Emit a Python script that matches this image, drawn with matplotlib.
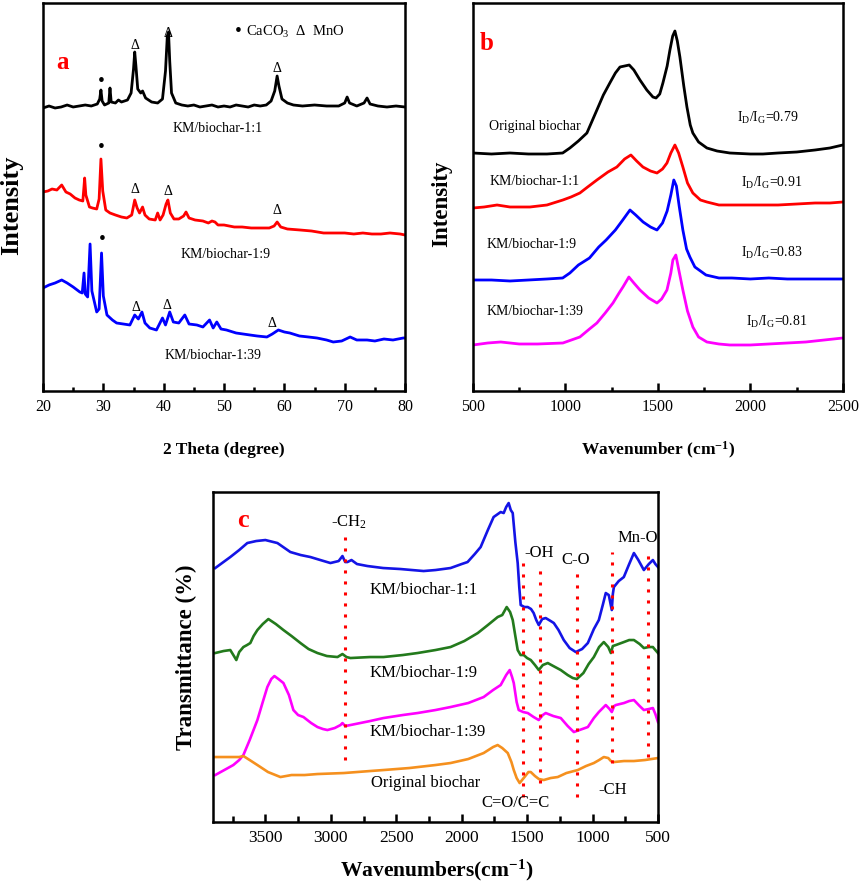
import numpy as np
import matplotlib
matplotlib.use("Agg")
import matplotlib.pyplot as plt
from matplotlib.ticker import MultipleLocator, FixedLocator

plt.rcParams['font.family'] = ['Liberation Serif', 'DejaVu Serif']
plt.rcParams['mathtext.fontset'] = 'custom'
plt.rcParams['mathtext.rm'] = 'Liberation Serif'
plt.rcParams['mathtext.it'] = 'Liberation Serif:italic'
plt.rcParams['mathtext.bf'] = 'Liberation Serif:bold'

# ---------------- data: (a) XRD, 2 theta vs intensity (arb.) ----------------
xrd_11 = [(20.0, 283), (21.0, 285), (22.0, 283), (23.0, 284), (24.0, 286), (25.0, 284), (26.0, 285),
          (27.0, 286), (28.0, 285), (29.0, 287), (29.4, 292), (29.6, 301), (29.8, 290), (30.2, 286),
          (30.9, 288), (31.1, 303), (31.3, 289), (32.0, 288), (32.5, 291), (33.0, 289), (34.0, 291),
          (34.6, 298), (35.0, 322), (35.2, 339), (35.4, 325), (35.7, 302), (36.2, 298), (36.5, 300),
          (37.0, 293), (38.0, 289), (39.0, 288), (39.8, 292), (40.3, 320), (40.6, 355), (40.8, 359),
          (41.0, 330), (41.3, 298), (42.0, 288), (43.0, 286), (44.0, 285), (45.0, 286), (46.0, 284),
          (47.0, 285), (48.0, 286), (49.0, 284), (50.0, 285), (51.0, 284), (52.0, 286), (53.0, 285),
          (54.0, 284), (55.0, 286), (56.0, 285), (57.0, 286), (57.8, 290), (58.4, 300), (58.8, 315),
          (59.1, 305), (59.6, 292), (60.5, 288), (61.5, 286), (63.0, 285), (65.0, 286), (67.0, 285),
          (69.0, 285), (70.0, 288), (70.4, 294), (70.8, 288), (72.0, 285), (73.2, 288), (73.7, 293),
          (74.2, 287), (75.5, 285), (77.0, 284), (78.5, 285), (80.0, 284)]
xrd_19 = [(20.0, 199), (20.8, 200), (21.5, 202), (22.3, 201), (23.1, 206), (23.8, 199), (24.5, 197),
          (25.3, 193), (26.0, 191), (26.6, 190), (26.8, 205), (26.9, 213), (27.1, 196), (27.7, 184),
          (28.2, 183), (28.9, 182), (29.3, 192), (29.6, 232), (29.9, 200), (30.4, 181), (31.1, 178),
          (32.0, 176), (33.0, 174), (33.9, 173), (34.7, 176), (35.2, 191), (35.6, 183), (36.0, 178),
          (36.5, 184), (36.9, 176), (37.6, 172), (38.6, 171), (39.0, 178), (39.4, 171), (39.9, 176),
          (40.4, 187), (40.7, 191), (41.1, 178), (41.7, 172), (42.5, 172), (43.3, 175), (43.7, 179),
          (44.2, 173), (45.2, 171), (46.5, 170), (47.4, 168), (48.0, 170), (48.5, 169), (49.0, 166),
          (50.0, 166), (51.7, 164), (53.0, 164), (54.5, 163), (56.0, 163), (57.5, 163), (58.3, 165),
          (58.8, 169), (59.4, 164), (60.5, 162), (62.6, 161), (64.5, 160), (66.5, 158), (68.1, 158),
          (70.0, 158), (71.5, 157), (73.0, 158), (74.5, 157), (76.0, 157), (77.5, 158), (79.2, 157),
          (80.0, 156)]
xrd_139 = [(20.0, 103), (21.0, 106), (22.0, 108), (23.1, 111), (24.0, 108), (25.0, 104), (26.1, 99),
           (26.5, 98), (26.8, 118), (27.0, 97), (27.4, 94), (27.8, 147), (28.1, 100), (28.9, 79),
           (29.3, 82), (29.7, 138), (30.0, 95), (30.6, 76), (31.5, 71), (32.2, 68), (33.3, 67),
           (34.4, 66), (35.2, 76), (35.8, 72), (36.4, 79), (36.9, 68), (37.7, 63), (38.8, 61),
           (39.8, 73), (40.3, 66), (41.0, 79), (41.6, 69), (42.5, 68), (43.5, 76), (44.2, 67),
           (45.5, 66), (46.5, 64), (47.6, 71), (48.2, 63), (48.8, 69), (49.5, 62), (50.4, 61),
           (52.0, 58), (54.3, 56), (55.5, 55), (57.1, 54), (58.0, 57), (59.0, 61), (60.0, 59),
           (60.9, 58), (62.5, 55), (64.0, 54), (65.4, 53), (67.0, 51), (68.1, 49), (69.5, 50),
           (70.9, 54), (72.0, 51), (73.7, 51), (75.0, 50), (76.5, 52), (78.0, 51), (79.7, 53),
           (80.0, 53)]
xrd_curves = [xrd_11, xrd_19, xrd_139]
xrd_colors = ['black', 'red', 'blue']
xrd_names = ['KM/biochar-1:1', 'KM/biochar-1:9', 'KM/biochar-1:39']
xrd_name_pos = [(49.0, 263), (50.2, 136), (48.2, 35)]
# phase marks: (2theta, height, symbol)
xrd_marks = [(29.6, 310, '•'), (35.2, 346, 'Δ'), (40.7, 358, 'Δ'), (58.8, 323, 'Δ'),
             (29.6, 244, '•'), (35.2, 201, 'Δ'), (40.7, 199, 'Δ'), (58.8, 180, 'Δ'),
             (29.8, 151, '•'), (35.4, 83, 'Δ'), (40.6, 85, 'Δ'), (57.9, 67, 'Δ')]

# ---------------- data: (b) Raman ----------------
raman_orig = [(500, 238), (600, 237), (700, 238), (800, 237), (900, 237), (985, 238), (1024, 243),
              (1070, 250), (1116, 258), (1170, 281), (1205, 296), (1240, 308), (1270, 318), (1295, 324),
              (1320, 325), (1345, 326), (1370, 321), (1403, 311), (1440, 301), (1473, 294), (1490, 293),
              (1510, 297), (1527, 308), (1550, 325), (1565, 341), (1580, 355), (1592, 360), (1605, 350),
              (1619, 334), (1640, 305), (1657, 284), (1675, 266), (1689, 258), (1720, 249), (1765, 243),
              (1820, 240), (1889, 238), (2000, 237), (2068, 237), (2150, 238), (2251, 239), (2350, 241),
              (2430, 243), (2500, 246)]
raman_11 = [(500, 183), (560, 184), (630, 186), (700, 184), (808, 184), (900, 186), (986, 191),
            (1030, 194), (1078, 198), (1120, 204), (1170, 211), (1230, 219), (1278, 224), (1320, 232),
            (1354, 236), (1385, 230), (1419, 224), (1460, 220), (1495, 218), (1525, 222), (1549, 228),
            (1570, 238), (1592, 246), (1612, 238), (1635, 224), (1660, 208), (1689, 198), (1730, 191),
            (1765, 189), (1830, 186), (1889, 186), (2000, 186), (2068, 186), (2150, 186), (2251, 187),
            (2350, 188), (2430, 188), (2500, 189)]
raman_19 = [(500, 111), (600, 111), (700, 110), (800, 111), (900, 112), (985, 113), (1024, 118),
            (1070, 126), (1130, 133), (1180, 144), (1220, 151), (1270, 161), (1310, 171), (1349, 181),
            (1380, 176), (1420, 169), (1460, 164), (1495, 161), (1525, 168), (1550, 180), (1570, 196),
            (1586, 211), (1600, 205), (1615, 185), (1635, 161), (1655, 142), (1673, 134), (1700, 124),
            (1760, 116), (1830, 113), (1900, 113), (2000, 112), (2100, 113), (2200, 112), (2300, 112),
            (2400, 112), (2500, 112)]
raman_139 = [(500, 46), (580, 48), (650, 49), (750, 47), (850, 47), (986, 48), (1078, 54), (1130, 62),
             (1170, 68), (1215, 78), (1257, 88), (1290, 98), (1311, 104), (1343, 114), (1370, 108),
             (1403, 101), (1450, 93), (1495, 88), (1520, 92), (1549, 101), (1570, 118), (1581, 131),
             (1597, 136), (1612, 122), (1635, 101), (1660, 80), (1689, 64), (1720, 54), (1765, 49),
             (1830, 47), (1889, 46), (2000, 46), (2100, 47), (2200, 48), (2300, 49), (2400, 51),
             (2500, 53)]
raman_curves = [raman_orig, raman_11, raman_19, raman_139]
raman_colors = ['black', 'red', 'blue', '#ff00ff']
raman_names = ['Original biochar', 'KM/biochar-1:1', 'KM/biochar-1:9', 'KM/biochar-1:39']
raman_ratio = ['0.79', '0.91', '0.83', '0.81']
raman_name_pos = [(835, 265), (835, 209), (819, 146), (835, 79)]
raman_ratio_pos = [(2095, 273), (2116, 208), (2116, 138), (2143, 69)]

# ---------------- data: (c) FTIR ----------------
ftir_11 = [(3883, 254), (3768, 265), (3700, 272), (3638, 279), (3570, 281), (3500, 282), (3408, 279),
           (3309, 270), (3230, 267), (3156, 265), (3080, 262), (3003, 259), (2940, 261), (2911, 266),
           (2890, 260), (2873, 260), (2842, 262), (2800, 258), (2720, 256), (2600, 254), (2467, 253),
           (2380, 252), (2291, 251), (2200, 252), (2085, 254), (2000, 258), (1955, 260), (1900, 268),
           (1855, 275), (1800, 292), (1756, 305), (1702, 310), (1679, 309), (1660, 315), (1641, 319),
           (1625, 312), (1610, 309), (1590, 280), (1572, 259), (1560, 235), (1549, 217), (1520, 215),
           (1495, 215), (1470, 213), (1450, 209), (1430, 202), (1411, 197), (1385, 203), (1358, 204),
           (1320, 201), (1296, 199), (1260, 192), (1220, 182), (1175, 174), (1128, 170), (1080, 173),
           (1036, 179), (990, 193), (952, 202), (920, 218), (899, 229), (876, 227), (853, 212),
           (845, 228), (837, 235), (800, 241), (761, 245), (720, 258), (684, 269), (650, 262),
           (608, 252), (570, 258), (539, 262), (520, 258), (500, 255)]
ftir_19 = [(3883, 169), (3820, 171), (3768, 172), (3740, 166), (3722, 162), (3700, 170), (3668, 175),
           (3640, 177), (3615, 179), (3590, 186), (3561, 192), (3520, 198), (3477, 203), (3420, 198),
           (3362, 192), (3300, 186), (3232, 179), (3170, 173), (3102, 169), (3030, 166), (2949, 165),
           (2911, 168), (2880, 165), (2850, 164), (2700, 165), (2597, 165), (2450, 167), (2337, 169),
           (2200, 172), (2085, 175), (1980, 181), (1877, 189), (1800, 197), (1725, 205), (1690, 207),
           (1656, 215), (1630, 210), (1610, 202), (1590, 186), (1572, 172), (1550, 167), (1526, 167),
           (1500, 164), (1472, 162), (1440, 157), (1411, 152), (1380, 157), (1342, 159), (1300, 156),
           (1243, 152), (1190, 147), (1151, 144), (1120, 143), (1070, 149), (1030, 158), (990, 165),
           (950, 175), (914, 180), (880, 175), (860, 169), (845, 176), (822, 177), (760, 180),
           (720, 182), (684, 182), (640, 178), (608, 174), (570, 175), (539, 175), (520, 172),
           (500, 169)]
ftir_139 = [(3883, 47), (3800, 53), (3745, 57), (3700, 62), (3668, 67), (3620, 82), (3561, 102),
            (3520, 120), (3485, 135), (3455, 143), (3431, 146), (3400, 143), (3362, 139), (3320, 127),
            (3286, 112), (3250, 107), (3209, 105), (3150, 99), (3102, 95), (3060, 93), (3026, 92),
            (2970, 94), (2926, 97), (2911, 99), (2890, 96), (2850, 97), (2700, 101), (2597, 104),
            (2450, 107), (2337, 109), (2200, 112), (2085, 115), (1950, 119), (1832, 125), (1760, 132),
            (1702, 137), (1660, 147), (1633, 152), (1615, 145), (1602, 139), (1580, 120), (1564, 112),
            (1530, 110), (1495, 109), (1450, 105), (1411, 102), (1380, 107), (1358, 109), (1300, 106),
            (1243, 104), (1190, 96), (1143, 90), (1100, 92), (1036, 95), (990, 104), (952, 110),
            (899, 117), (870, 113), (853, 110), (835, 116), (822, 117), (760, 119), (720, 121),
            (684, 122), (640, 116), (608, 112), (570, 113), (539, 114), (520, 108), (500, 100)]
ftir_orig = [(3883, 65), (3800, 65), (3745, 65), (3700, 65), (3668, 66), (3620, 62), (3561, 57),
             (3480, 50), (3385, 45), (3300, 47), (3200, 47), (3102, 48), (2900, 49), (2700, 51),
             (2597, 52), (2400, 54), (2200, 57), (2085, 59), (1950, 63), (1832, 69), (1760, 75),
             (1725, 77), (1690, 74), (1648, 69), (1620, 60), (1602, 52), (1580, 44), (1557, 39),
             (1520, 45), (1490, 50), (1472, 50), (1440, 46), (1410, 43), (1373, 42), (1320, 44),
             (1266, 45), (1200, 49), (1113, 52), (1050, 56), (990, 59), (950, 62), (914, 65),
             (880, 64), (860, 61), (837, 60), (760, 61), (684, 61), (600, 62), (500, 64)]
ftir_curves = [ftir_11, ftir_19, ftir_139, ftir_orig]
ftir_colors = ['#1414e6', '#237a1c', '#ff00ff', '#f5901e']
ftir_names = ['KM/biochar-1:1', 'KM/biochar-1:9', 'KM/biochar-1:39', 'Original biochar']
ftir_name_pos = [(2291, 232), (2291, 149), (2260, 90), (2276, 39)]
# band markers: wavenumber, y from, y to
ftir_bands = [(2890, 62, 285), (1535, 25, 259), (1405, 39, 259), (1120, 25, 249), (855, 59, 270), (580, 65, 274)]
ftir_band_names = ['-CH$_\\mathrm{2}$', '-OH', 'C-O', 'Mn-O', 'C=O/C=C', '-CH']
ftir_band_pos = [(2865, 300), (1411, 269), (1128, 262), (654, 284), (1587, 19), (845, 32)]


def style_axis(ax, size, major_len=5.5, minor_len=3):
    for s in ax.spines.values():
        s.set_linewidth(1.8)
    ax.set_yticks([])
    ax.tick_params(axis='x', which='both', direction='in', top=False, width=1.8,
                   labelsize=size, pad=6)
    ax.tick_params(axis='x', which='major', length=major_len)
    ax.tick_params(axis='x', which='minor', length=minor_len)


fig = plt.figure(figsize=(8.6, 8.84), dpi=100)

# ---- (a) XRD
ax1 = fig.add_axes([0.050, 0.5577, 0.421, 0.4389])
for pts, c in zip(xrd_curves, xrd_colors):
    x, y = np.array(pts).T
    ax1.plot(x, y, color=c, lw=2.0)
ax1.set_xlim(20, 80)
ax1.set_ylim(0, 388)
ax1.xaxis.set_major_locator(MultipleLocator(10))
ax1.xaxis.set_minor_locator(MultipleLocator(5))
style_axis(ax1, 11.5)
for (x, y), name in zip(xrd_name_pos, xrd_names):
    ax1.text(x, y, name, ha='center', va='center', fontsize=10)
for x, y, m in xrd_marks:
    ax1.text(x, y, m, ha='center', va='center', fontsize=10 if m == 'Δ' else 14)
ax1.text(52.3, 360, '•', ha='center', va='center', fontsize=14)
ax1.text(53.6, 359, 'CaCO$_\\mathrm{3}$  Δ  MnO', ha='left', va='center', fontsize=10.5)
ax1.text(23.3, 329, 'a', color='red', fontsize=18, fontweight='bold', ha='center', va='center')
fig.text(0.2605, 0.491, '2 Theta (degree)', ha='center', va='center', fontsize=12.5, fontweight='bold')
fig.text(0.014, 0.768, 'Intensity', rotation=90, ha='center', va='center', fontsize=19, fontweight='bold')

# ---- (b) Raman
ax2 = fig.add_axes([0.550, 0.5577, 0.430, 0.4389])
for pts, c in zip(raman_curves, raman_colors):
    x, y = np.array(pts).T
    ax2.plot(x, y, color=c, lw=2.0)
ax2.set_xlim(500, 2500)
ax2.set_ylim(0, 388)
ax2.xaxis.set_major_locator(MultipleLocator(500))
ax2.xaxis.set_minor_locator(MultipleLocator(250))
style_axis(ax2, 11.5)
for (x, y), name in zip(raman_name_pos, raman_names):
    ax2.text(x, y, name, ha='center', va='center', fontsize=10)
for (x, y), r in zip(raman_ratio_pos, raman_ratio):
    ax2.text(x, y, 'I$_\\mathrm{D}$/I$_\\mathrm{G}$=' + r, ha='center', va='center', fontsize=10)
ax2.text(576, 348, 'b', color='red', fontsize=18, fontweight='bold', ha='center', va='center')
fig.text(0.765, 0.491, 'Wavenumber (cm$^{\\mathbf{-1}}$)', ha='center', va='center',
         fontsize=12.5, fontweight='bold')
fig.text(0.513, 0.769, 'Intensity', rotation=90, ha='center', va='center', fontsize=16.5, fontweight='bold')

# ---- (c) FTIR
ax3 = fig.add_axes([0.2477, 0.0701, 0.5174, 0.3733])
for pts, c in zip(ftir_curves, ftir_colors):
    x, y = np.array(pts).T
    ax3.plot(x, y, color=c, lw=1.9)
for x, y0, y1 in ftir_bands:
    ax3.plot([x, x], [y0, y1], color='red', lw=2.2, linestyle=(0, (1.0, 2.6)))
ax3.set_xlim(3900, 500)
ax3.set_ylim(0, 330)
ax3.xaxis.set_major_locator(FixedLocator([3500, 3000, 2500, 2000, 1500, 1000, 500]))
ax3.xaxis.set_minor_locator(FixedLocator([3750, 3250, 2750, 2250, 1750, 1250, 750]))
style_axis(ax3, 12.5, major_len=6, minor_len=4)
for (x, y), name in zip(ftir_name_pos, ftir_names):
    ax3.text(x, y, name, ha='center', va='center', fontsize=12)
for (x, y), name in zip(ftir_band_pos, ftir_band_names):
    ax3.text(x, y, name, ha='center', va='center', fontsize=12)
ax3.text(3668, 302, 'c', color='red', fontsize=19, fontweight='bold', ha='center', va='center')
fig.text(0.508, 0.0158, 'Wavenumbers(cm$^{\\mathbf{-1}}$)', ha='center', va='center',
         fontsize=15.5, fontweight='bold')
fig.text(0.217, 0.256, 'Transmittance (%)', rotation=90, ha='center', va='center',
         fontsize=16.5, fontweight='bold')

fig.savefig('out.png', dpi=100)
